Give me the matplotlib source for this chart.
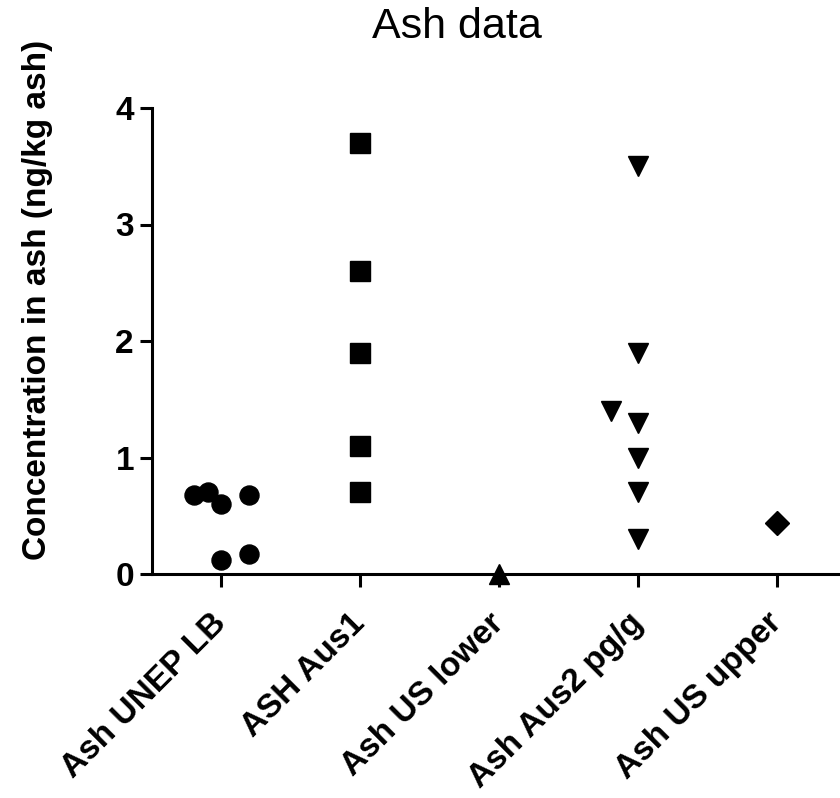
import numpy as np
import matplotlib
matplotlib.use("Agg")
import matplotlib.pyplot as plt

plt.rcParams['font.family'] = ['Liberation Sans', 'DejaVu Sans']

# groups along the x axis
groups = ["Ash UNEP LB", "ASH Aus1", "Ash US lower", "Ash Aus2 pg/g", "Ash US upper"]
markers = ["o", "s", "^", "v", "D"]
sizes = [13.7, 13.7, 13.7, 13.7, 12.2]

# concentrations (ng/kg ash) per group, with the horizontal scatter of each point
unep_lb = [0.68, 0.70, 0.60, 0.68, 0.12, 0.17]
unep_lb_jit = [-0.20, -0.095, 0.0, 0.20, 0.0, 0.20]
aus1 = [3.70, 2.60, 1.90, 1.10, 0.70]
aus1_jit = [0.0, 0.0, 0.0, 0.0, 0.0]
us_lower = [0.0]
us_lower_jit = [0.0]
aus2 = [3.50, 1.90, 1.40, 1.30, 1.00, 0.70, 0.30]
aus2_jit = [0.0, 0.0, -0.20, 0.0, 0.0, 0.0, 0.0]
us_upper = [0.44]
us_upper_jit = [0.0]

values = [unep_lb, aus1, us_lower, aus2, us_upper]
jitter = [unep_lb_jit, aus1_jit, us_lower_jit, aus2_jit, us_upper_jit]

fig = plt.figure(figsize=(8.4, 7.98), dpi=100)
ax = fig.add_axes([152/840, 1 - 574/798, 1 - 152/840, (574 - 108)/798])

for i, (vals, jit) in enumerate(zip(values, jitter)):
    xs = i + np.array(jit)
    ax.plot(xs, vals, linestyle="none", marker=markers[i], ms=sizes[i],
            color="black", clip_on=False, zorder=5)

ax.set_xlim(-0.5, 4.45)
ax.set_ylim(0, 4)
ax.set_yticks([0, 1, 2, 3, 4])
ax.set_xticks(range(len(groups)))
ax.set_xticklabels(groups, rotation=45, ha="right", va="center",
                   rotation_mode="anchor", fontweight="bold", fontsize=24)
for lab in ax.get_yticklabels():
    lab.set_fontweight("bold")
    lab.set_fontsize(24)

for side in ["top", "right"]:
    ax.spines[side].set_visible(False)
for side in ["left", "bottom"]:
    ax.spines[side].set_linewidth(2.2)
ax.tick_params(axis="both", length=9, width=2.2, direction="out", pad=4)
ax.tick_params(axis="x", pad=23)

ax.set_ylabel("Concentration in ash (ng/kg ash)", fontsize=24, fontweight="bold")
ax.yaxis.set_label_coords(-0.144, 0.588)

fig.text(457/840, 1 - 27/798, "Ash data", fontsize=31, ha="center", va="center")

fig.savefig("out.png", dpi=100)
